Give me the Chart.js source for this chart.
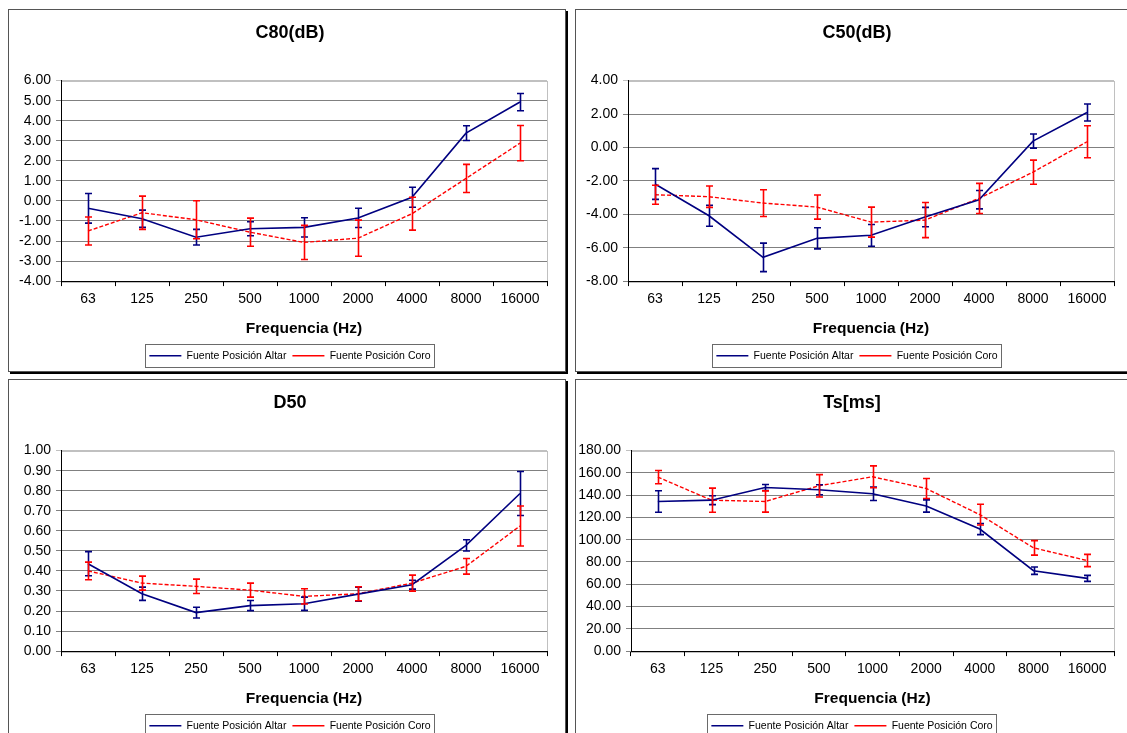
<!DOCTYPE html>
<html>
<head>
<meta charset="utf-8">
<script src="https://cdn.jsdelivr.net/npm/chart.js@4.4.1/dist/chart.umd.min.js"></script>
<style>
  html, body { margin: 0; padding: 0; background: #fff; overflow: hidden; }
  body { width: 1127px; height: 733px; position: relative; }
  .panel { position: absolute; border: 1px solid #555; box-shadow: 2px 2px 0 #000; background: #fff; }
  .panel canvas { display: block; }
</style>
</head>
<body>
<div class="panel" style="left:8px;top:9px"><canvas id="chartC80" width="556" height="361"></canvas></div>
<div class="panel" style="left:575px;top:9px"><canvas id="chartC50" width="556" height="361"></canvas></div>
<div class="panel" style="left:8px;top:379px"><canvas id="chartD50" width="556" height="361"></canvas></div>
<div class="panel" style="left:575px;top:379px"><canvas id="chartTs" width="556" height="361"></canvas></div>
<script>
const frecuencias = ['63', '125', '250', '500', '1000', '2000', '4000', '8000', '16000'];
const serieAltar = 'Fuente Posición Altar';
const serieCoro = 'Fuente Posición Coro';

// C80 (dB)
const c80Altar = [-0.37, -0.89, -1.81, -1.39, -1.32, -0.85, 0.18, 3.38, 4.93];
const c80AltarErr = [0.74, 0.43, 0.39, 0.35, 0.48, 0.48, 0.50, 0.37, 0.43];
const c80Coro = [-1.50, -0.59, -0.94, -1.56, -2.07, -1.86, -0.64, 1.12, 2.88];
const c80CoroErr = [0.70, 0.83, 0.95, 0.70, 0.85, 0.90, 0.82, 0.70, 0.88];

// C50 (dB)
const c50Altar = [-2.19, -4.09, -6.58, -5.44, -5.26, -4.17, -3.13, 0.38, 2.09];
const c50AltarErr = [0.92, 0.63, 0.85, 0.63, 0.65, 0.58, 0.55, 0.42, 0.51];
const c50Coro = [-2.83, -2.95, -3.33, -3.57, -4.47, -4.35, -3.05, -1.48, 0.34];
const c50CoroErr = [0.57, 0.64, 0.80, 0.72, 0.90, 1.05, 0.90, 0.72, 0.96];

// D50
const d50Altar = [0.436, 0.286, 0.192, 0.227, 0.236, 0.284, 0.331, 0.527, 0.786];
const d50AltarErr = [0.060, 0.033, 0.027, 0.025, 0.033, 0.035, 0.022, 0.028, 0.110];
const d50Coro = [0.400, 0.339, 0.323, 0.304, 0.273, 0.286, 0.339, 0.423, 0.624];
const d50CoroErr = [0.044, 0.035, 0.036, 0.035, 0.038, 0.035, 0.040, 0.039, 0.100];

// Ts [ms]
const tsAltar = [134.3, 135.5, 146.9, 144.8, 141.2, 130.3, 109.6, 72.2, 65.3];
const tsAltarErr = [9.7, 4.0, 2.7, 4.5, 6.0, 5.5, 5.0, 3.3, 2.7];
const tsCoro = [156.2, 135.5, 134.3, 148.4, 156.5, 146.0, 122.5, 92.7, 81.3];
const tsCoroErr = [6.0, 10.8, 9.5, 10.0, 9.8, 9.0, 9.3, 6.5, 5.5];

Chart.defaults.font.family = '"Liberation Sans", Arial, sans-serif';
Chart.defaults.color = '#000';

// marco gris del área de trazado
const marcoPlugin = {
  id: 'marco',
  beforeDraw(chart) {
    const a = chart.chartArea;
    const ctx = chart.ctx;
    ctx.save();
    ctx.strokeStyle = '#c0c0c0';
    ctx.lineWidth = 1;
    ctx.strokeRect(Math.round(a.left) + 0.5, Math.round(a.top) + 0.5, Math.round(a.width), Math.round(a.height));
    ctx.restore();
  }
};

// barras de error (± por punto)
const erroresPlugin = {
  id: 'errores',
  afterDatasetsDraw(chart) {
    const ctx = chart.ctx;
    const y = chart.scales.y;
    chart.data.datasets.forEach((ds, i) => {
      const meta = chart.getDatasetMeta(i);
      ctx.save();
      ctx.strokeStyle = ds.borderColor;
      ctx.lineWidth = 1.6;
      ctx.setLineDash([]);
      meta.data.forEach((pt, j) => {
        const e = ds.errores[j];
        const v = ds.data[j];
        const x = Math.round(pt.x) + 0.5;
        const y1 = y.getPixelForValue(v + e);
        const y2 = y.getPixelForValue(v - e);
        ctx.beginPath();
        ctx.moveTo(x, y1); ctx.lineTo(x, y2);
        ctx.moveTo(x - 3.5, y1); ctx.lineTo(x + 3.5, y1);
        ctx.moveTo(x - 3.5, y2); ctx.lineTo(x + 3.5, y2);
        ctx.stroke();
      });
      ctx.restore();
    });
  }
};

// recuadro de la leyenda
const cajaLeyendaPlugin = {
  id: 'cajaLeyenda',
  afterDraw(chart) {
    const hb = chart.legend && chart.legend.legendHitBoxes;
    if (!hb || !hb.length) return;
    const last = hb[hb.length - 1];
    const left = Math.round(hb[0].left - 4) + 0.5;
    const right = Math.round(last.left + last.width + 3) + 0.5;
    const top = Math.round(hb[0].top - 7) + 0.5;
    const bottom = Math.round(hb[0].top + hb[0].height + 6) + 0.5;
    const ctx = chart.ctx;
    ctx.save();
    ctx.strokeStyle = '#6a6a6a';
    ctx.lineWidth = 1;
    ctx.strokeRect(left, top, right - left, bottom - top);
    ctx.restore();
  }
};

function crearGrafico(id, titulo, altar, altarErr, coro, coroErr, yMin, yMax, yStep, margenIzq, anchoEje) {
  const ctx = document.getElementById(id);
  return new Chart(ctx.getContext('2d'), {
    type: 'line',
    data: {
      labels: frecuencias,
      datasets: [
        { label: serieAltar, data: altar, errores: altarErr, borderColor: '#000080', backgroundColor: '#000080', borderWidth: 1.6, pointRadius: 0, tension: 0, fill: false },
        { label: serieCoro, data: coro, errores: coroErr, borderColor: '#ff0000', backgroundColor: '#ff0000', borderWidth: 1.4, borderDash: [4, 2], pointRadius: 0, tension: 0, fill: false }
      ]
    },
    options: {
      responsive: false,
      animation: false,
      devicePixelRatio: 1,
      layout: { padding: { left: margenIzq, right: 4, top: 0, bottom: 0 } },
      plugins: {
        title: { display: true, text: titulo, font: { size: 18, weight: 'bold' }, color: '#000', padding: { top: 12, bottom: 37 } },
        legend: {
          position: 'bottom',
          labels: { usePointStyle: true, pointStyle: 'line', pointStyleWidth: 32, boxHeight: 10, padding: 6, font: { size: 10.5 }, color: '#000' }
        },
        tooltip: { enabled: false }
      },
      scales: {
        x: {
          offset: true,
          grid: { offset: true, drawOnChartArea: false, drawTicks: true, tickLength: 5, color: '#000' },
          border: { color: '#000', width: 1 },
          ticks: { font: { size: 14 }, color: '#000', padding: 5, maxRotation: 0, autoSkip: false },
          title: { display: true, text: 'Frequencia (Hz)', font: { size: 15.5, weight: 'bold' }, color: '#000', padding: { top: 7, bottom: 6 } }
        },
        y: {
          min: yMin,
          max: yMax,
          afterFit(scale) { scale.width = anchoEje; },
          grid: {
            color: (c) => (c.tick && c.tick.value === yMax ? '#c0c0c0' : '#808080'),
            tickLength: 5
          },
          border: { color: '#000', width: 1 },
          ticks: { stepSize: yStep, font: { size: 14 }, color: '#000', padding: 5, callback: (v) => Number(v).toFixed(2) }
        },
        // eje derecho vacío: sólo reserva margen para centrar título y leyenda como en el original
        margen: {
          position: 'right',
          display: true,
          afterFit(scale) { scale.width = 14; },
          grid: { display: false, drawOnChartArea: false, drawTicks: false },
          border: { display: false },
          ticks: { display: false }
        }
      }
    },
    plugins: [marcoPlugin, erroresPlugin, cajaLeyendaPlugin]
  });
}

crearGrafico('chartC80', 'C80(dB)', c80Altar, c80AltarErr, c80Coro, c80CoroErr, -4, 6, 1, 10, 42);
crearGrafico('chartC50', 'C50(dB)', c50Altar, c50AltarErr, c50Coro, c50CoroErr, -8, 4, 2, 10, 42);
crearGrafico('chartD50', 'D50', d50Altar, d50AltarErr, d50Coro, d50CoroErr, 0, 1, 0.1, 10, 42);
crearGrafico('chartTs', 'Ts[ms]', tsAltar, tsAltarErr, tsCoro, tsCoroErr, 0, 180, 20, 0, 55);
</script>
</body>
</html>
